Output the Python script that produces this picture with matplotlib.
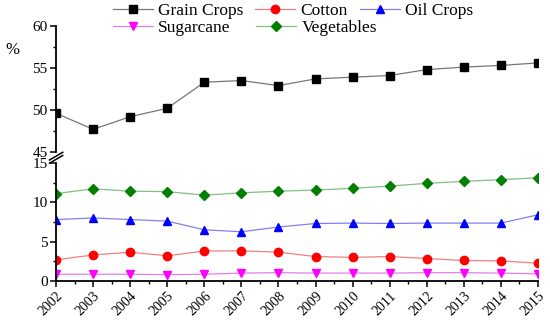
import matplotlib; matplotlib.use("Agg")
import matplotlib.pyplot as plt
from matplotlib.ticker import MultipleLocator

years = list(range(2002, 2016))
grain = [49.6, 47.7, 49.2, 50.2, 53.3, 53.5, 52.9, 53.7, 53.9, 54.1, 54.8, 55.1, 55.3, 55.6]
cotton = [2.7, 3.3, 3.65, 3.2, 3.8, 3.83, 3.65, 3.1, 3.0, 3.1, 2.85, 2.6, 2.55, 2.25]
oil = [7.8, 8.0, 7.8, 7.6, 6.5, 6.25, 6.85, 7.3, 7.35, 7.3, 7.35, 7.35, 7.35, 8.4]
sugar = [0.85, 0.85, 0.85, 0.8, 0.85, 1.0, 1.05, 1.0, 1.0, 1.0, 1.05, 1.05, 1.0, 0.9]
veg = [11.1, 11.7, 11.4, 11.35, 10.9, 11.2, 11.4, 11.55, 11.77, 12.05, 12.4, 12.65, 12.87, 13.1]

plt.rcParams.update({"font.family": "Liberation Serif", "font.size": 11})

fig = plt.figure(figsize=(5.5, 3.2), dpi=100)
L, R = 0.102, 0.978
ax1 = fig.add_axes([L, 0.525, R - L, 0.919 - 0.525])
ax2 = fig.add_axes([L, 0.122, R - L, 0.491 - 0.122])

kw = dict(lw=0.9, ms=6)
h1, = ax1.plot(years, grain, color="#777777", marker="s", mfc="black", mec="black", label="Grain Crops", **kw)
h2, = ax2.plot(years, cotton, color="#F08080", marker="o", mfc="red", mec="red", label="Cotton", **kw)
h3, = ax2.plot(years, oil, color="#8080F0", marker="^", mfc="blue", mec="blue", label="Oil Crops", **kw)
h4, = ax2.plot(years, sugar, color="#E080E8", marker="v", mfc="magenta", mec="magenta", label="Sugarcane", **kw)
h5, = ax2.plot(years, veg, color="#80C080", marker="D", mfc="green", mec="green", label="Vegetables", ms=5.5, lw=0.9)

for ax in (ax1, ax2):
    ax.set_xlim(2002, 2015)
    for sp in ("top", "right"):
        ax.spines[sp].set_visible(False)
    ax.spines["left"].set_linewidth(1.3)
    ax.tick_params(direction="out", width=1.1, length=4, labelsize=11, pad=2)
    ax.tick_params(which="minor", direction="out", width=1.0, length=2.5)

ax1.set_ylim(45, 60)
ax1.yaxis.set_major_locator(MultipleLocator(5))
ax1.yaxis.set_minor_locator(MultipleLocator(2.5))
ax1.spines["bottom"].set_visible(False)
ax1.tick_params(axis="x", which="both", bottom=False, labelbottom=False)

ax2.set_ylim(0, 15)
ax2.yaxis.set_major_locator(MultipleLocator(5))
ax2.yaxis.set_minor_locator(MultipleLocator(2.5))
ax2.spines["bottom"].set_linewidth(1.3)
ax2.set_xticks(years)
ax2.xaxis.set_minor_locator(MultipleLocator(0.5))
ax2.set_xticklabels([str(y) for y in years], rotation=45, ha="right", rotation_mode="anchor", fontsize=10)

# break marks on the left axis
for y in (0.502, 0.512):
    fig.add_artist(plt.Line2D([L - 0.012, L + 0.012], [y - 0.012, y + 0.012], color="black", lw=1.1))

fig.text(0.022, 0.845, "%", fontsize=12, ha="center", va="center")

legkw = dict(loc="upper left", frameon=False, fontsize=12.5, handlelength=2.3,
             handletextpad=0.3, borderpad=0, borderaxespad=0)
fig.legend(handles=[h1, h2, h3], bbox_to_anchor=(0.205, 0.99), ncol=3, columnspacing=0.7, **legkw)
fig.legend(handles=[h4, h5], bbox_to_anchor=(0.205, 0.937), ncol=2, columnspacing=1.5, **legkw)

fig.savefig("out.png", dpi=100)
